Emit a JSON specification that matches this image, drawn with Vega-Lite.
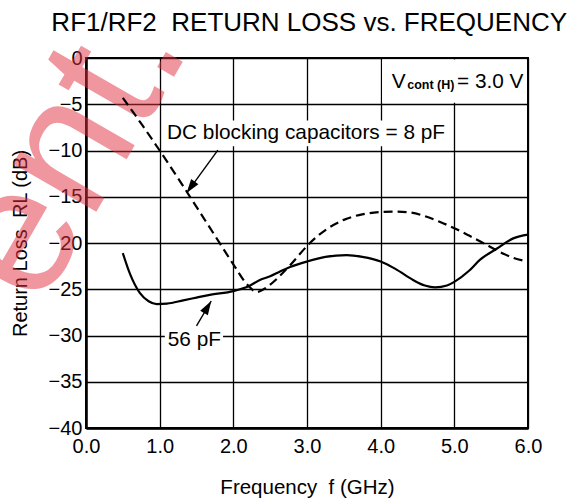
{
  "$schema": "https://vega.github.io/schema/vega-lite/v6.json",
  "autosize": "none",
  "width": 442,
  "height": 370,
  "padding": {"left": 86, "top": 58, "right": 48, "bottom": 76},
  "background": "white",
  "config": {
    "font": "Liberation Sans",
    "view": {"stroke": "black", "strokeWidth": 2},
    "axis": {
      "labelFont": "Liberation Sans", "titleFont": "Liberation Sans",
      "labelColor": "black", "titleColor": "black",
      "domainColor": "black", "domainWidth": 2.5,
      "gridColor": "black", "gridWidth": 1.3, "gridOpacity": 1,
      "ticks": false, "labelFlush": false, "labelOverlap": false,
      "titleFontWeight": "normal"
    }
  },
  "datasets": {
    "curves": [
      {"f": 0.5, "rl": -4.3, "cap": "8 pF"},
      {"f": 0.75, "rl": -7.1, "cap": "8 pF"},
      {"f": 1.0, "rl": -10.0, "cap": "8 pF"},
      {"f": 1.25, "rl": -13.0, "cap": "8 pF"},
      {"f": 1.5, "rl": -16.1, "cap": "8 pF"},
      {"f": 1.75, "rl": -19.2, "cap": "8 pF"},
      {"f": 2.0, "rl": -22.3, "cap": "8 pF"},
      {"f": 2.2, "rl": -24.6, "cap": "8 pF"},
      {"f": 2.32, "rl": -25.3, "cap": "8 pF"},
      {"f": 2.45, "rl": -24.8, "cap": "8 pF"},
      {"f": 2.6, "rl": -23.8, "cap": "8 pF"},
      {"f": 2.77, "rl": -22.4, "cap": "8 pF"},
      {"f": 3.04, "rl": -20.0, "cap": "8 pF"},
      {"f": 3.25, "rl": -18.6, "cap": "8 pF"},
      {"f": 3.5, "rl": -17.5, "cap": "8 pF"},
      {"f": 3.75, "rl": -16.9, "cap": "8 pF"},
      {"f": 4.0, "rl": -16.65, "cap": "8 pF"},
      {"f": 4.2, "rl": -16.6, "cap": "8 pF"},
      {"f": 4.4, "rl": -16.7, "cap": "8 pF"},
      {"f": 4.6, "rl": -17.1, "cap": "8 pF"},
      {"f": 4.8, "rl": -17.7, "cap": "8 pF"},
      {"f": 5.0, "rl": -18.4, "cap": "8 pF"},
      {"f": 5.2, "rl": -19.2, "cap": "8 pF"},
      {"f": 5.39, "rl": -20.0, "cap": "8 pF"},
      {"f": 5.6, "rl": -20.9, "cap": "8 pF"},
      {"f": 5.8, "rl": -21.6, "cap": "8 pF"},
      {"f": 6.0, "rl": -22.0, "cap": "8 pF"},
      {"f": 0.5, "rl": -21.1, "cap": "56 pF"},
      {"f": 0.6, "rl": -23.4, "cap": "56 pF"},
      {"f": 0.73, "rl": -25.4, "cap": "56 pF"},
      {"f": 0.85, "rl": -26.3, "cap": "56 pF"},
      {"f": 0.96, "rl": -26.6, "cap": "56 pF"},
      {"f": 1.1, "rl": -26.55, "cap": "56 pF"},
      {"f": 1.32, "rl": -26.2, "cap": "56 pF"},
      {"f": 1.5, "rl": -25.9, "cap": "56 pF"},
      {"f": 1.68, "rl": -25.6, "cap": "56 pF"},
      {"f": 2.0, "rl": -25.2, "cap": "56 pF"},
      {"f": 2.2, "rl": -24.7, "cap": "56 pF"},
      {"f": 2.36, "rl": -24.0, "cap": "56 pF"},
      {"f": 2.5, "rl": -23.6, "cap": "56 pF"},
      {"f": 2.63, "rl": -23.1, "cap": "56 pF"},
      {"f": 2.77, "rl": -22.6, "cap": "56 pF"},
      {"f": 3.0, "rl": -22.0, "cap": "56 pF"},
      {"f": 3.25, "rl": -21.5, "cap": "56 pF"},
      {"f": 3.54, "rl": -21.3, "cap": "56 pF"},
      {"f": 3.75, "rl": -21.5, "cap": "56 pF"},
      {"f": 4.0, "rl": -22.0, "cap": "56 pF"},
      {"f": 4.2, "rl": -22.8, "cap": "56 pF"},
      {"f": 4.44, "rl": -24.0, "cap": "56 pF"},
      {"f": 4.6, "rl": -24.6, "cap": "56 pF"},
      {"f": 4.74, "rl": -24.8, "cap": "56 pF"},
      {"f": 4.9, "rl": -24.6, "cap": "56 pF"},
      {"f": 5.0, "rl": -24.2, "cap": "56 pF"},
      {"f": 5.2, "rl": -23.0, "cap": "56 pF"},
      {"f": 5.35, "rl": -21.8, "cap": "56 pF"},
      {"f": 5.58, "rl": -20.6, "cap": "56 pF"},
      {"f": 5.8, "rl": -19.5, "cap": "56 pF"},
      {"f": 6.0, "rl": -19.1, "cap": "56 pF"}
    ],
    "boxes": [
      {"x": 4.02, "x2": 5.98, "y": -0.15, "y2": -4.85},
      {"x": 1.07, "x2": 4.9, "y": -6.75, "y2": -9.55},
      {"x": 1.07, "x2": 1.86, "y": -29.3, "y2": -31.6}
    ]
  },
  "layer": [
    {
      "data": {"values": [{"x": -0.25, "y": -10.1, "t": "ent."}]},
      "mark": {"type": "text", "fontSize": 182, "fontWeight": "normal", "color": "#e03040", "opacity": 0.5, "angle": 300, "align": "center", "baseline": "middle"},
      "encoding": {
        "x": {"field": "x", "type": "quantitative"},
        "y": {"field": "y", "type": "quantitative"},
        "text": {"field": "t"}
      }
    },
    {
      "data": {"name": "boxes"},
      "mark": {"type": "rect", "color": "white", "opacity": 1},
      "encoding": {
        "x": {"field": "x", "type": "quantitative"},
        "x2": {"field": "x2"},
        "y": {"field": "y", "type": "quantitative"},
        "y2": {"field": "y2"}
      }
    },
    {
      "data": {"name": "curves"},
      "transform": [{"filter": "datum.cap === '8 pF'"}],
      "mark": {"type": "line", "color": "black", "strokeWidth": 2.2, "strokeDash": [9, 5], "interpolate": "monotone"},
      "encoding": {
        "x": {"field": "f", "type": "quantitative"},
        "y": {"field": "rl", "type": "quantitative"}
      }
    },
    {
      "data": {"name": "curves"},
      "transform": [{"filter": "datum.cap === '56 pF'"}],
      "mark": {"type": "line", "color": "black", "strokeWidth": 2.2, "interpolate": "monotone"},
      "encoding": {
        "x": {"field": "f", "type": "quantitative"},
        "y": {"field": "rl", "type": "quantitative"}
      }
    },
    {
      "data": {"values": [{"x": 1.79, "y": -9.95, "x2": 1.37, "y2": -14.55}, {"x": 1.50, "y": -28.97, "x2": 1.70, "y2": -26.27}]},
      "mark": {"type": "rule", "color": "black", "strokeWidth": 1.4},
      "encoding": {
        "x": {"field": "x", "type": "quantitative"},
        "y": {"field": "y", "type": "quantitative"},
        "x2": {"field": "x2"},
        "y2": {"field": "y2"}
      }
    },
    {
      "data": {"values": [{"x": 1.365, "y": -14.6}]},
      "mark": {"type": "point", "shape": "M0,0L-0.32,1L0.32,1Z", "filled": true, "color": "black", "opacity": 1, "size": 784, "angle": 216},
      "encoding": {
        "x": {"field": "x", "type": "quantitative"},
        "y": {"field": "y", "type": "quantitative"}
      }
    },
    {
      "data": {"values": [{"x": 1.70, "y": -26.27}]},
      "mark": {"type": "point", "shape": "M0,0L-0.32,1L0.32,1Z", "filled": true, "color": "black", "opacity": 1, "size": 784, "angle": 31},
      "encoding": {
        "x": {"field": "x", "type": "quantitative"},
        "y": {"field": "y", "type": "quantitative"}
      }
    },
    {
      "data": {"values": [{"x": 3.03, "y": 2.92, "t": "RF1/RF2\u00a0 RETURN LOSS vs. FREQUENCY"}]},
      "mark": {"type": "text", "fontSize": 26, "color": "black", "align": "center", "baseline": "alphabetic"},
      "encoding": {
        "x": {"field": "x", "type": "quantitative"},
        "y": {"field": "y", "type": "quantitative"},
        "text": {"field": "t"}
      }
    },
    {
      "data": {"values": [
        {"x": 1.10, "y": -8.76, "t": "DC blocking capacitors = 8 pF"},
        {"x": 1.11, "y": -31.1, "t": "56 pF"},
        {"x": 4.15, "y": -3.24, "t": "V"},
        {"x": 5.036, "y": -3.24, "t": "= 3.0 V"}
      ]},
      "mark": {"type": "text", "fontSize": 20.8, "color": "black", "align": "left", "baseline": "alphabetic"},
      "encoding": {
        "x": {"field": "x", "type": "quantitative"},
        "y": {"field": "y", "type": "quantitative"},
        "text": {"field": "t"}
      }
    },
    {
      "data": {"values": [{"x": 4.36, "y": -3.35, "t": "cont (H)"}]},
      "mark": {"type": "text", "fontSize": 12.5, "fontWeight": "bold", "color": "black", "align": "left", "baseline": "alphabetic"},
      "encoding": {
        "x": {"field": "x", "type": "quantitative", "scale": {"domain": [0, 6], "nice": false, "zero": false},
          "axis": {"values": [0, 1, 2, 3, 4, 5, 6], "format": ".1f", "labelFontSize": 20, "labelPadding": 8, "title": "Frequency\u00a0 f (GHz)", "titleFontSize": 20.5, "titlePadding": 21, "grid": true}},
        "y": {"field": "y", "type": "quantitative", "scale": {"domain": [-40, 0], "nice": false, "zero": false},
          "axis": {"values": [0, -5, -10, -15, -20, -25, -30, -35, -40], "format": "d", "labelFontSize": 20, "labelPadding": 4, "title": "Return Loss\u00a0 RL (dB)", "titleFontSize": 20, "titlePadding": 18, "grid": true}},
        "text": {"field": "t"}
      }
    }
  ]
}
